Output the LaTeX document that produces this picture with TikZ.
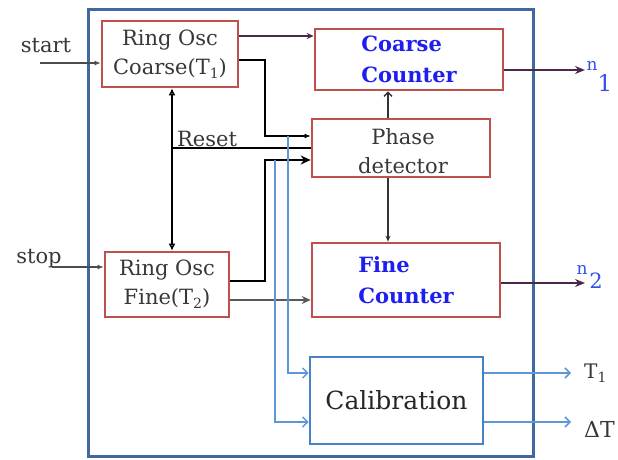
\documentclass[tikz,border=0pt]{standalone}
\usepackage{fontspec}
\setmainfont{DejaVu Serif}
\usetikzlibrary{arrows.meta}
\definecolor{boxred}{RGB}{192,80,77}
\definecolor{outerblue}{RGB}{65,105,160}
\definecolor{calblue}{RGB}{70,130,200}
\definecolor{lineblue}{RGB}{95,150,215}
\definecolor{cntblue}{RGB}{30,30,240}
\definecolor{nblue}{RGB}{50,80,230}
\definecolor{outpurple}{RGB}{75,40,75}
\definecolor{txtgray}{RGB}{55,55,55}
\newcommand\lowidx[1]{\raisebox{-0.35ex}{\fontsize{14}{14}\selectfont #1}}
\tikzset{
  redbox/.style={draw=boxred,line width=2.6pt,inner sep=0pt,text=txtgray,align=center,font=\fontsize{21}{29}\selectfont},
  cntbox/.style={redbox,text=cntblue,align=left,font=\fontsize{21}{31}\selectfont\bfseries},
  calbox/.style={draw=calblue,line width=2.6pt,inner sep=0pt,text=black!85,font=\fontsize{25}{29}\selectfont},
  thick wire/.style={line width=2.4pt,black},
  thin wire/.style={line width=1.5pt,black!70},
  blue wire/.style={line width=1.5pt,lineblue,-{Straight Barb[length=5pt,width=10pt]}},
  out wire/.style={line width=2.6pt,outpurple,-{Stealth[length=10pt,width=8pt]}},
  plain/.style={text=txtgray,inner sep=0pt,font=\fontsize{21}{29}\selectfont},
}
\begin{document}
\begin{tikzpicture}[x=1pt,y=-1pt]
\useasboundingbox (0,0) rectangle (618,460);
\draw[outerblue,line width=3pt] (88,10) rectangle (533,456);
% boxes
\node[redbox,minimum width=136pt,minimum height=66pt] (rc) at (170,54) {Ring Osc\\Coarse(T\lowidx{1})};
\node[redbox,minimum width=124pt,minimum height=65pt] (rf) at (167,284.5) {Ring Osc\\Fine(T\lowidx{2})};
\node[cntbox,minimum width=188pt,minimum height=61pt] (cc) at (409,59.5) {Coarse\\Counter};
\node[redbox,minimum width=178pt,minimum height=58pt] (pd) at (401,148) {};
\node[plain,align=center] (pdt) at (403,151) {Phase\\detector};
\node[cntbox,minimum width=188pt,minimum height=74pt] (fc) at (406,280) {Fine\\Counter};
\node[calbox,minimum width=173pt,minimum height=87pt] (cal) at (396.5,400.5) {Calibration};
% inputs
\node[plain] (start) at (46,46) {start};
\node[plain] (stop) at (39,259) {stop};
\coordinate (sti) at (40,63);
\coordinate (spi) at (52,267);
\draw[thin wire,-{Latex[open,length=6pt,width=5pt]}] (sti) -- (sti -| rc.west);
\draw[thin wire,-{Latex[open,length=6pt,width=5pt]}] (spi) -- (spi -| rf.west);
% coarse osc to coarse counter
\draw[line width=1.6pt,outpurple,-{Stealth[length=7pt,width=6pt]}] ([yshift=18pt]rc.east) -- ([yshift=18pt]rc.east -| cc.west);
% coarse osc to phase detector
\coordinate (ca) at (265,60);
\coordinate (cb) at (265,136);
\draw[thick wire,-{Latex[open,length=6pt,width=5pt]}] ([yshift=-6pt]rc.east) -- (ca) -- (cb) -- (cb -| pd.west);
% fine osc to phase detector
\coordinate (fa) at (265,281);
\coordinate (fb) at (265,160);
\draw[thick wire,-{Stealth[length=10pt,width=9pt]}] ([yshift=3.5pt]rf.east) -- (fa) -- (fb) -- (fb -| pd.west);
% fine osc to fine counter
\draw[line width=1.8pt,black!65,-{Stealth[length=9pt,width=8pt]}] ([yshift=-15.5pt]rf.east) -- ([yshift=-15.5pt]rf.east -| fc.west);
% reset
\coordinate (rs) at (172,148);
\draw[thick wire,{Latex[open,length=7pt,width=7pt]}-{Latex[open,length=7pt,width=7pt]}] ([xshift=2pt]rc.south) -- ([xshift=5pt]rf.north);
\draw[thick wire] (rs) -- (rs -| pd.west);
\node[plain] (reset) at (207,139) {Reset};
% phase detector to counters
\draw[line width=1.4pt,black!80,-{Straight Barb[length=4pt,width=8pt]}] ([xshift=-13pt]pd.north) -- ([xshift=-13pt]pd.north |- cc.south);
\draw[line width=1.4pt,black!80,-{Stealth[length=6pt,width=5pt]}] ([xshift=-13pt]pd.south) -- ([xshift=-13pt]pd.south |- fc.north);
% calibration inputs
\coordinate (b1) at (288,136);
\coordinate (b1d) at (288,373);
\coordinate (b2) at (275,160);
\coordinate (b2d) at (275,422);
\draw[blue wire] (b1) -- (b1d) -- (b1d -| cal.west);
\draw[blue wire] (b2) -- (b2d) -- (b2d -| cal.west);
% outputs
\coordinate (n1e) at (585,70);
\coordinate (n2e) at (585,283);
\coordinate (t1e) at (571,373);
\coordinate (dte) at (571,422);
\draw[out wire] (n1e -| cc.east) -- (n1e);
\draw[out wire] (n2e -| fc.east) -- (n2e);
\draw[blue wire] (t1e -| cal.east) -- (t1e);
\draw[blue wire] (dte -| cal.east) -- (dte);
\node[text=nblue,inner sep=0pt,font=\fontsize{17}{17}\selectfont] (n1a) at (592,66) {n};
\node[text=nblue,inner sep=0pt,font=\fontsize{23}{23}\selectfont] (n1b) at (605,83) {1};
\node[text=nblue,inner sep=0pt,font=\fontsize{17}{17}\selectfont] (n2a) at (582,270) {n};
\node[text=nblue,inner sep=0pt,font=\fontsize{21}{21}\selectfont] (n2b) at (596,281) {2};
\node[text=txtgray,inner sep=0pt,font=\fontsize{20}{20}\selectfont,anchor=west] (t1) at (584,373) {T\lowidx{1}};
\node[text=txtgray,inner sep=0pt,font=\fontsize{22}{22}\selectfont,anchor=west] (dt) at (584,429) {ΔT};
\end{tikzpicture}
\end{document}
